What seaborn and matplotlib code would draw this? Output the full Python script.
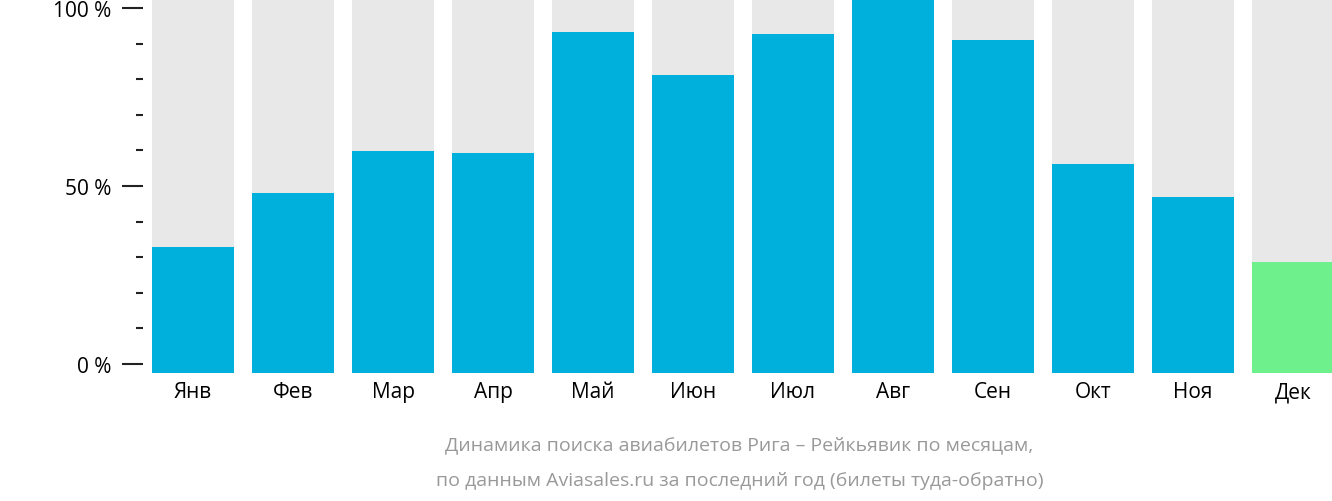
import matplotlib
matplotlib.use("Agg")
import matplotlib.pyplot as plt
import seaborn as sns
import pandas as pd
from matplotlib.ticker import MultipleLocator

months = ["Янв", "Фев", "Мар", "Апр", "Май", "Июн", "Июл", "Авг", "Сен", "Окт", "Ноя", "Дек"]
values = [32.8, 47.9, 59.7, 59.4, 93.3, 81.2, 92.7, 102.5, 91.0, 56.3, 46.8, 28.6]
bar_colors = ["#00b0dc"] * 11 + ["#6ef08c"]
ytick_values = [0, 50, 100]
ytick_labels = ["0 %", "50 %", "100 %"]

BASE = -2.5
TOP = 102.5

df = pd.DataFrame({"month": months, "value": values})
df["height"] = df["value"] - BASE
df["bg"] = TOP - BASE

plt.rcParams["font.family"] = "Open Sans"
fig = plt.figure(figsize=(13.32, 5.02), dpi=100)
ax = fig.add_axes([152 / 1332, 128 / 502, 1180 / 1332, 374 / 502])

sns.barplot(data=df, x="month", y="bg", bottom=BASE, color="#e8e8e8",
            width=0.82, ax=ax, saturation=1)
sns.barplot(data=df, x="month", y="height", bottom=BASE, hue="month",
            palette=bar_colors, legend=False, width=0.82, ax=ax, saturation=1)

ax.set_xlim(-0.41, 11.39)
ax.set_ylim(BASE, TOP)
for s in ax.spines.values():
    s.set_visible(False)
ax.set_xlabel("")
ax.set_ylabel("")
ax.set_yticks(ytick_values)
ax.set_yticklabels(ytick_labels)
ax.yaxis.set_minor_locator(MultipleLocator(10))
ax.tick_params(axis="y", which="major", length=15, width=1.5, pad=8,
               labelsize=15, color="#222222")
ax.tick_params(axis="y", which="minor", length=5, width=1.5, color="#222222")
ax.tick_params(axis="x", length=0, labelsize=15, pad=6)
ax.yaxis.set_tick_params(direction="out")
# shift ticks left of the first bar
for t in ax.yaxis.get_major_ticks() + ax.yaxis.get_minor_ticks():
    t.tick1line.set_transform(t.tick1line.get_transform() +
                              matplotlib.transforms.ScaledTranslation(-9 / 100, 0, fig.dpi_scale_trans))
for lbl in ax.get_yticklabels():
    lbl.set_transform(lbl.get_transform() +
                      matplotlib.transforms.ScaledTranslation(-9 / 100, 0, fig.dpi_scale_trans))

fig.text(0.555, 1 - 445 / 502, "Динамика поиска авиабилетов Рига – Рейкьявик по месяцам,",
         ha="center", va="center", fontsize=14, color="#999999")
fig.text(0.555, 1 - 481 / 502, "по данным Aviasales.ru за последний год (билеты туда-обратно)",
         ha="center", va="center", fontsize=14, color="#999999")

fig.savefig("out.png", dpi=100)
